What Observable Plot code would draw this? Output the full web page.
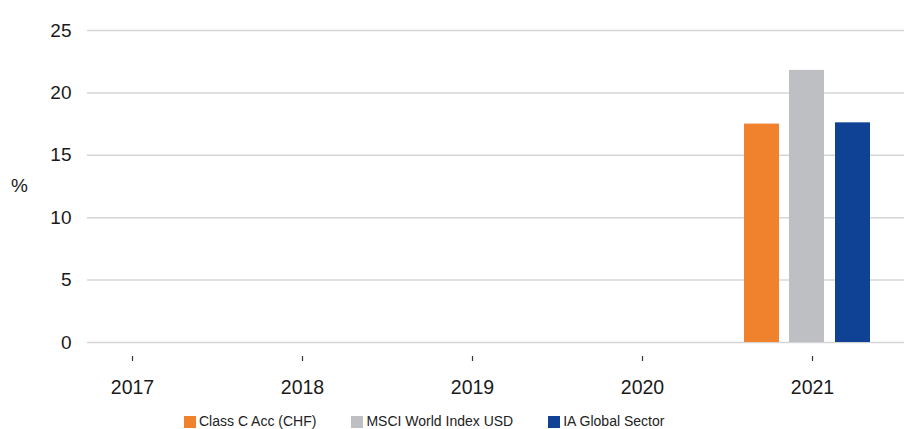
<!DOCTYPE html>
<html><head><meta charset="utf-8">
<script src="https://cdn.jsdelivr.net/npm/d3@7"></script>
<script src="https://cdn.jsdelivr.net/npm/@observablehq/plot@0.6"></script>
<style>
body{margin:0;background:#fff;font-family:"Liberation Sans",Arial,sans-serif;overflow:hidden}
#chart svg{display:block}
#legend{display:flex;align-items:center;padding-left:184px;gap:35px;font-size:14px;color:#222;height:15px;line-height:15px;margin-top:4px}
.item{display:flex;align-items:center;white-space:nowrap}
.sw{width:12px;height:12px;margin-right:3px;flex:none}
</style></head><body>
<div id="chart"></div><div id="legend"></div>
<script>
// ---- data ----
const years = [2017, 2018, 2019, 2020, 2021];
const series = ["Class C Acc (CHF)", "MSCI World Index USD", "IA Global Sector"];
const colors = ["#f0822e", "#bebfc3", "#0f4194"];
const classC = [null, null, null, null, 17.5];
const msci = [null, null, null, null, 21.8];
const iaGlobal = [null, null, null, null, 17.6];
const yTicks = [0, 5, 10, 15, 20, 25];

const seriesValues = [classC, msci, iaGlobal];
const rows = [];
series.forEach((s, i) => years.forEach((y, j) => {
  if (seriesValues[i][j] != null) rows.push({year: y, series: s, value: seriesValues[i][j], idx: i});
}));

// ---- layout ----
const W = 904, H = 410, mL = 87, mR = 0, mT = 10, mB = 49;
const barW = 35, barOffsets = [-50.5, -5.5, 40.5];
const step = 170;
const inset = (step - barW) / 2;

const barMarks = series.map((s, i) => Plot.barY(rows.filter(d => d.idx === i), {
  x: "year", y: "value", fill: colors[i],
  insetLeft: inset, insetRight: inset, dx: barOffsets[i]
}));

const chart = Plot.plot({
  width: W, height: H,
  marginLeft: mL, marginRight: mR, marginTop: mT, marginBottom: mB,
  style: {fontFamily: '"Liberation Sans", Arial, sans-serif', fontSize: "19px", color: "#1a1a1a", background: "#fff"},
  x: {type: "band", domain: years, range: [mL - 40, mL - 40 + step * years.length], padding: 0},
  y: {domain: [-1.52, 26.6], range: [H - mB, mT]},
  marks: [
    Plot.gridY(yTicks, {stroke: "#d6d6d6", strokeOpacity: 1, strokeWidth: 1.5}),
    ...barMarks,
    Plot.axisY(yTicks, {tickSize: 0, tickPadding: 16, label: null, line: true, stroke: "#222", strokeWidth: 1.5}),
    Plot.axisX(years, {tickSize: 0, tickPadding: 19, label: null, line: true, stroke: "#333", strokeWidth: 1.5, fontSize: 19.5, tickFormat: d => String(d)}),
    Plot.axisX(years, {tickSize: -5, tickFormat: () => "", label: null, stroke: "#333", strokeWidth: 1.2}),
    Plot.text(["%"], {frameAnchor: "left", textAnchor: "middle", dx: -68, fontSize: 19, fill: "#1a1a1a"})
  ]
});
document.getElementById("chart").appendChild(chart);

const legend = document.getElementById("legend");
series.forEach((s, i) => {
  const it = document.createElement("div"); it.className = "item";
  const sw = document.createElement("span"); sw.className = "sw"; sw.style.background = colors[i];
  const tx = document.createElement("span"); tx.textContent = s;
  it.appendChild(sw); it.appendChild(tx); legend.appendChild(it);
});
</script></body></html>
